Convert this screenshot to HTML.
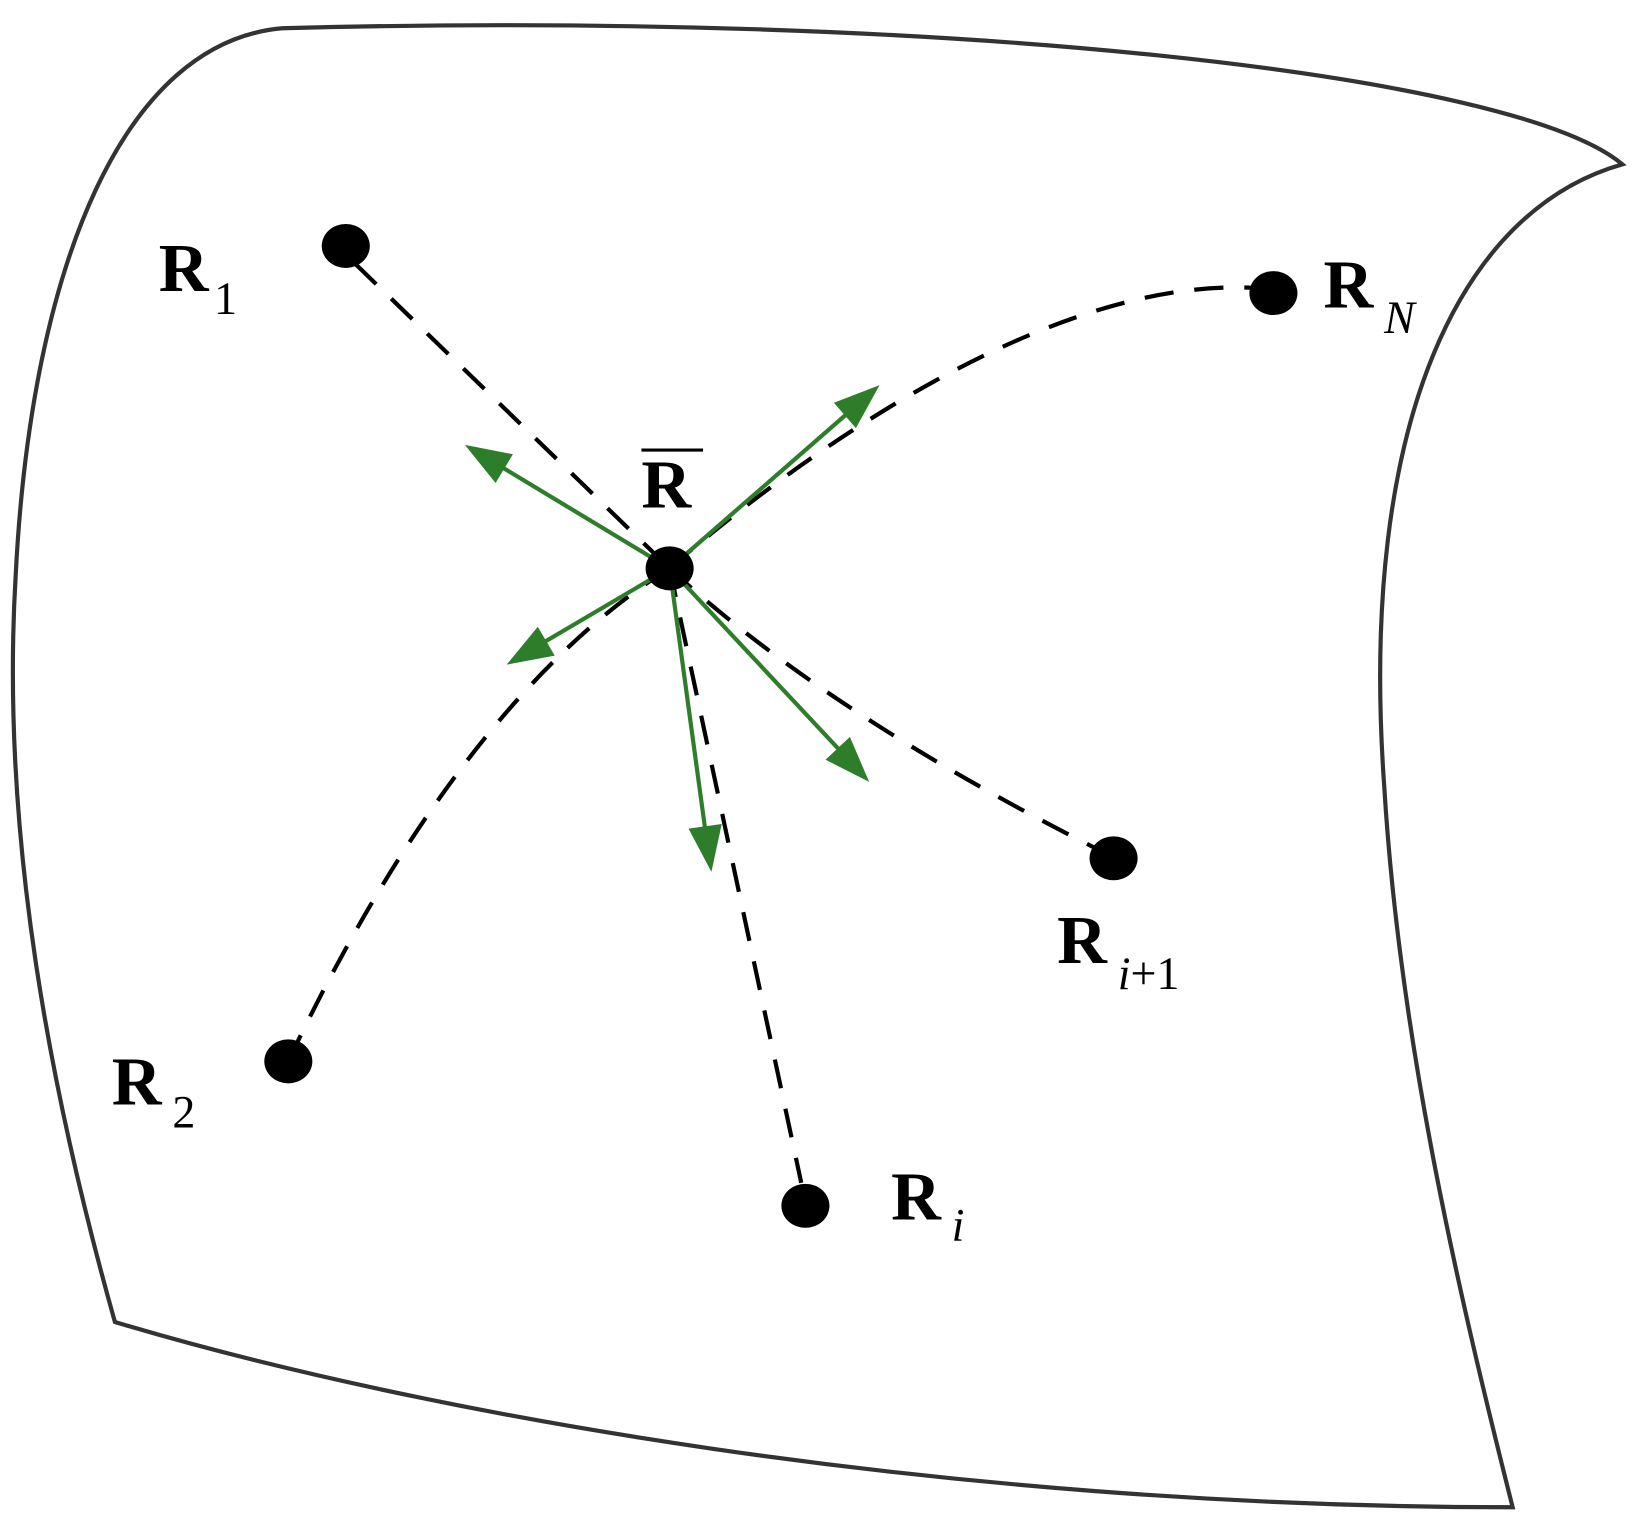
<!DOCTYPE html>
<html><head><style>html,body{margin:0;padding:0;background:#fff}svg{display:block}</style></head>
<body>
<svg width="1638" height="1524" viewBox="0 0 1568 1456" preserveAspectRatio="none" xmlns="http://www.w3.org/2000/svg">
<path d="M270,27 C900,10 1450,70 1553,157 C1400,200 1300,400 1325,750 C1340,1000 1400,1250 1448,1440 C900,1440 400,1350 110,1263 C50,1050 0,800 15,550 C30,250 120,40 270,27 Z" fill="none" stroke="#333" stroke-width="4"/>
<g fill="none" stroke="#000" stroke-width="4" stroke-dasharray="28,20">
<line x1="340" y1="252" x2="641" y2="543"/>
<path d="M641,543 C760,440 1000,265 1200,275"/>
<path d="M641,543 C500,630 380,800 285,995"/>
<line x1="641" y1="543" x2="767" y2="1130"/>
<path d="M641,543 Q790,680 1048,810"/>
</g>
<g fill="none" stroke="#2e7d2a" stroke-width="4">
<line x1="641" y1="543" x2="480" y2="446"/>
<line x1="641" y1="543" x2="810" y2="396"/>
<line x1="641" y1="543" x2="520" y2="614"/>
<line x1="641" y1="543" x2="804" y2="717"/>
<line x1="641" y1="543" x2="675" y2="792"/>
</g>
<g fill="#2e7d2a">
<polygon points="445,425 491,434 474.4,461.4"/>
<polygon points="842,368 819.3,409 798.3,384.8"/>
<polygon points="485,635 514.8,598.8 531,626.4"/>
<polygon points="832,747 813.6,704 790.2,725.8"/>
<polygon points="681,833 690.9,787.2 659.1,791.6"/>
</g>
<g fill="#000">
<ellipse cx="331" cy="235" rx="23" ry="21"/>
<ellipse cx="1219" cy="280" rx="23" ry="21"/>
<ellipse cx="641" cy="543" rx="23" ry="21"/>
<ellipse cx="276" cy="1014" rx="23" ry="21"/>
<ellipse cx="771" cy="1152" rx="23" ry="21"/>
<ellipse cx="1066" cy="820" rx="23" ry="21"/>
</g>
<g font-family="Liberation Serif, serif" fill="#000">
<text x="152" y="278" font-size="66" font-weight="bold">R</text><text x="205" y="300" font-size="44">1</text>
<text x="614" y="485" font-size="66" font-weight="bold">R</text><line x1="614" y1="430" x2="673" y2="430" stroke="#000" stroke-width="3"/>
<text x="1267" y="294" font-size="66" font-weight="bold">R</text><text x="1325" y="318" font-size="44" font-style="italic">N</text>
<text x="1012" y="920" font-size="66" font-weight="bold">R</text><text x="1070" y="945" font-size="44"><tspan font-style="italic">i</tspan>+1</text>
<text x="107" y="1055" font-size="66" font-weight="bold">R</text><text x="165" y="1077" font-size="44">2</text>
<text x="853" y="1165" font-size="66" font-weight="bold">R</text><text x="911" y="1185" font-size="44" font-style="italic">i</text>
</g>
</svg>
</body></html>
